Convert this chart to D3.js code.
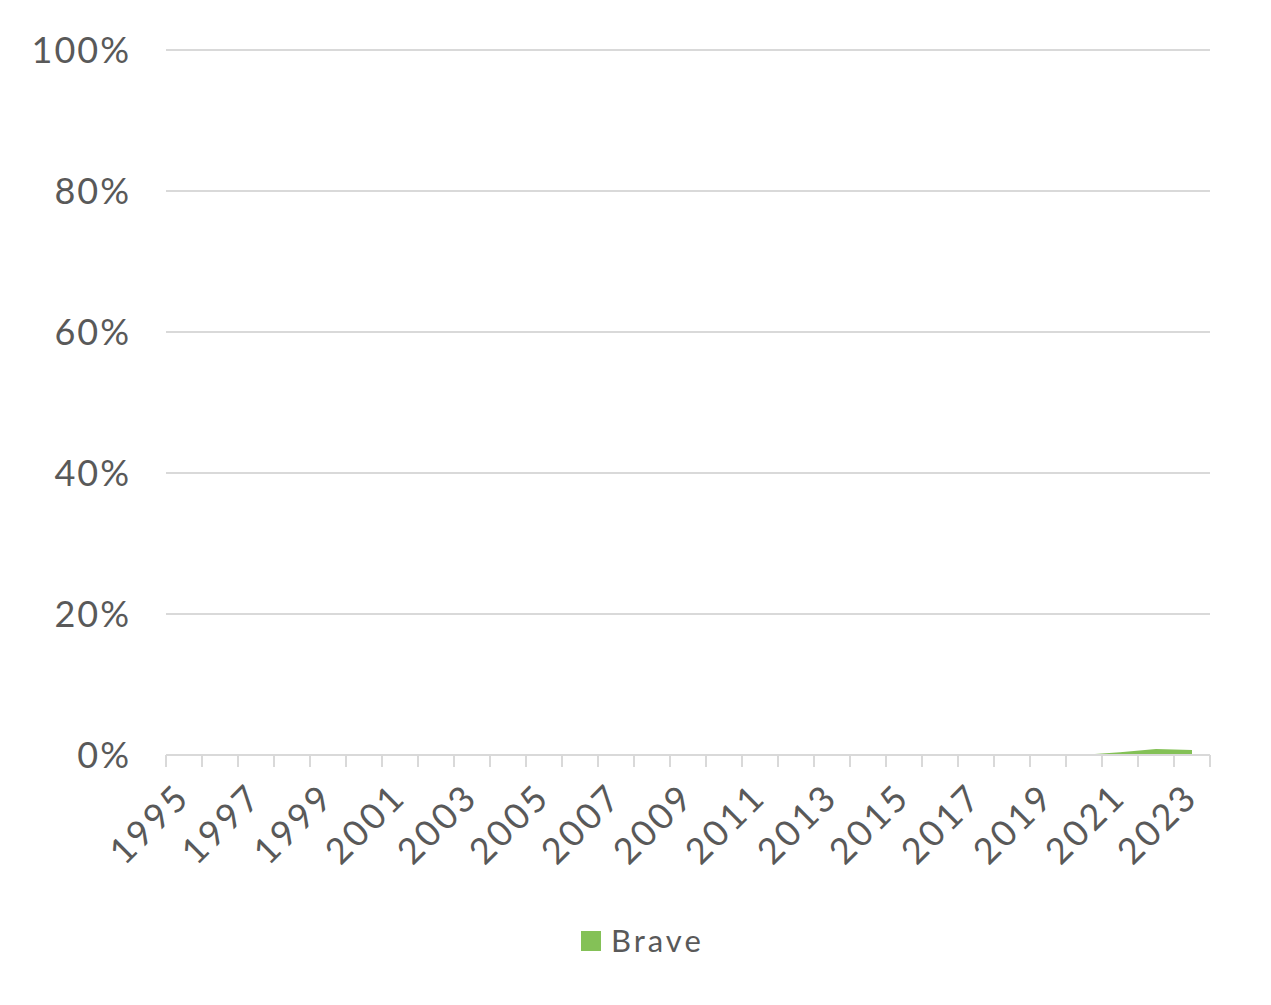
<!DOCTYPE html>
<html>
<head>
<meta charset="utf-8">
<script src="https://cdn.jsdelivr.net/npm/d3@7"></script>
<style>
  body { margin: 0; background: #fff; }
  text { font-family: "Century Gothic", Lato, "DejaVu Sans", sans-serif; fill: #595959; }
</style>
</head>
<body>
<svg width="1271" height="1005"></svg>
<script>
// data
var years = d3.range(1995, 2024);
var brave = [0,0,0,0,0,0,0,0,0,0, 0,0,0,0,0,0,0,0,0,0, 0,0,0,0,0,0.05,0.4,0.85,0.7];
var yTicks = [0, 0.2, 0.4, 0.6, 0.8, 1.0];
var seriesName = "Brave";

var svg = d3.select("svg");
var plotLeft = 166, plotRight = 1210, plotTop = 50, plotBottom = 755;

var x = d3.scaleBand().domain(years).range([plotLeft, plotRight]).padding(0);
var y = d3.scaleLinear().domain([0, 1]).range([plotBottom, plotTop]);

// gridlines
svg.append("g").selectAll("line")
  .data(yTicks)
  .enter().append("line")
  .attr("x1", plotLeft).attr("x2", plotRight)
  .attr("y1", function(d) { return y(d); })
  .attr("y2", function(d) { return y(d); })
  .attr("stroke", "#d9d9d9")
  .attr("stroke-width", 2);

// y labels
svg.append("g").selectAll("text")
  .data(yTicks)
  .enter().append("text")
  .attr("x", 131)
  .attr("y", function(d) { return y(d) + 13; })
  .attr("text-anchor", "end")
  .attr("font-size", "36px")
  .attr("letter-spacing", "2px")
  .text(function(d) { return d3.format(".0%")(d); });

// area
var area = d3.area()
  .x(function(d, i) { return x(years[i]) + x.bandwidth() / 2; })
  .y0(y(0))
  .y1(function(d) { return y(d / 100); });

svg.append("path")
  .datum(brave)
  .attr("d", area)
  .attr("fill", "#84c157");

// x axis line + tick marks at band edges
svg.append("line")
  .attr("x1", plotLeft).attr("x2", plotRight)
  .attr("y1", plotBottom).attr("y2", plotBottom)
  .attr("stroke", "#d9d9d9").attr("stroke-width", 2);

var edges = years.map(function(d) { return x(d); }).concat([plotRight]);
svg.append("g").selectAll("line")
  .data(edges)
  .enter().append("line")
  .attr("x1", function(d) { return d; })
  .attr("x2", function(d) { return d; })
  .attr("y1", plotBottom).attr("y2", plotBottom + 12)
  .attr("stroke", "#d9d9d9").attr("stroke-width", 2);

// x labels every 2 years
svg.append("g").selectAll("text")
  .data(years.filter(function(d, i) { return i % 2 === 0; }))
  .enter().append("text")
  .attr("transform", function(d) {
    return "translate(" + (x(d) + x.bandwidth() / 2 + 8) + "," + (plotBottom + 44) + ") rotate(-45)";
  })
  .attr("text-anchor", "end")
  .attr("font-size", "36px")
  .attr("letter-spacing", "3px")
  .text(function(d) { return d; });

// legend
svg.append("rect")
  .attr("x", 581).attr("y", 931)
  .attr("width", 20).attr("height", 20)
  .attr("fill", "#84c157");
svg.append("text")
  .attr("x", 611).attr("y", 952)
  .attr("font-size", "31px")
  .attr("letter-spacing", "3px")
  .text(seriesName);
</script>
</body>
</html>
